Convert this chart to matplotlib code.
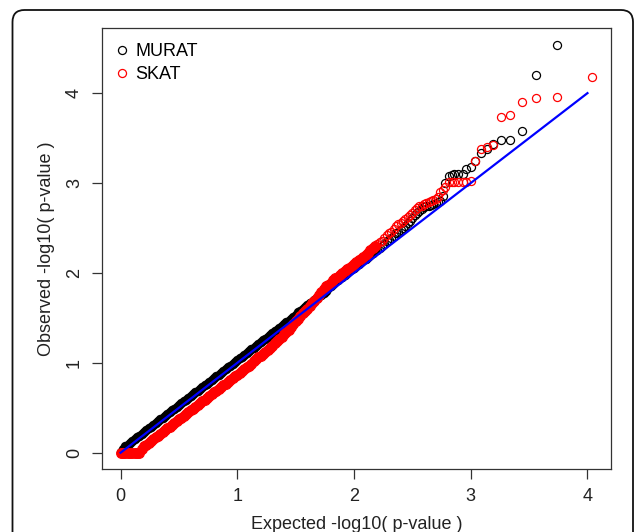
import matplotlib
matplotlib.use("Agg")
import matplotlib.pyplot as plt
from matplotlib.patches import FancyBboxPatch

plt.rcParams['font.family'] = ['Liberation Sans', 'DejaVu Sans']

# expected -log10(p): dense part read on a 0.02 grid, then the sparse top ranks
bulk_expected = [
    0.00, 0.02, 0.04, 0.06, 0.08, 0.10, 0.12, 0.14, 0.16, 0.18,
    0.20, 0.22, 0.24, 0.26, 0.28, 0.30, 0.32, 0.34, 0.36, 0.38,
    0.40, 0.42, 0.44, 0.46, 0.48, 0.50, 0.52, 0.54, 0.56, 0.58,
    0.60, 0.62, 0.64, 0.66, 0.68, 0.70, 0.72, 0.74, 0.76, 0.78,
    0.80, 0.82, 0.84, 0.86, 0.88, 0.90, 0.92, 0.94, 0.96, 0.98,
    1.00, 1.02, 1.04, 1.06, 1.08, 1.10, 1.12, 1.14, 1.16, 1.18,
    1.20, 1.22, 1.24, 1.26, 1.28, 1.30, 1.32, 1.34, 1.36, 1.38,
    1.40, 1.42, 1.44, 1.46, 1.48, 1.50, 1.52, 1.54, 1.56, 1.58,
    1.60, 1.62, 1.64, 1.66, 1.68, 1.70, 1.72, 1.74, 1.76, 1.78,
    1.80, 1.82, 1.84, 1.86, 1.88, 1.90, 1.92, 1.94, 1.96, 1.98,
    2.00, 2.02, 2.04, 2.06, 2.08, 2.10, 2.12, 2.14, 2.16, 2.18,
    2.20, 2.22, 2.24, 2.26, 2.28, 2.30, 2.32, 2.34, 2.36, 2.38,
    2.40, 2.42, 2.44, 2.46, 2.48, 2.50, 2.52, 2.54, 2.56, 2.58,
    2.60, 2.62, 2.64, 2.66, 2.68, 2.70, 2.72,
]
tail_expected = [2.74, 2.76, 2.78, 2.81, 2.84, 2.86, 2.89, 2.93, 2.96, 3.00,
                 3.04, 3.09, 3.14, 3.19, 3.26, 3.34, 3.44, 3.56, 3.74, 4.04]

murat_bulk = [
    0.01, 0.04, 0.07, 0.09, 0.11, 0.13, 0.15, 0.17, 0.19, 0.21,
    0.23, 0.25, 0.27, 0.29, 0.31, 0.33, 0.35, 0.37, 0.39, 0.41,
    0.43, 0.45, 0.47, 0.49, 0.51, 0.53, 0.55, 0.57, 0.59, 0.61,
    0.63, 0.65, 0.67, 0.69, 0.71, 0.73, 0.75, 0.77, 0.79, 0.81,
    0.83, 0.85, 0.87, 0.89, 0.91, 0.93, 0.95, 0.97, 0.99, 1.01,
    1.03, 1.05, 1.07, 1.09, 1.11, 1.13, 1.15, 1.17, 1.19, 1.21,
    1.23, 1.25, 1.27, 1.29, 1.31, 1.33, 1.35, 1.37, 1.39, 1.41,
    1.43, 1.45, 1.47, 1.49, 1.51, 1.53, 1.56, 1.58, 1.60, 1.62,
    1.64, 1.66, 1.68, 1.70, 1.72, 1.74, 1.76, 1.78, 1.80, 1.83,
    1.86, 1.88, 1.90, 1.92, 1.94, 1.96, 1.98, 2.00, 2.02, 2.04,
    2.06, 2.08, 2.10, 2.12, 2.14, 2.16, 2.18, 2.20, 2.22, 2.24,
    2.26, 2.28, 2.30, 2.32, 2.35, 2.37, 2.39, 2.41, 2.44, 2.46,
    2.48, 2.50, 2.52, 2.55, 2.58, 2.61, 2.64, 2.67, 2.69, 2.71,
    2.73, 2.74, 2.75, 2.76, 2.77, 2.78, 2.79,
]
# MURAT has no point at the top rank
murat_tail = [2.80, 2.86, 3.00, 3.08, 3.09, 3.10, 3.10, 3.10, 3.16, 3.18,
              3.24, 3.33, 3.38, 3.43, 3.48, 3.48, 3.58, 4.20, 4.54]

skat_bulk = [
    0.00, 0.00, 0.00, 0.00, 0.00, 0.00, 0.00, 0.00, 0.00, 0.04,
    0.07, 0.09, 0.11, 0.13, 0.15, 0.17, 0.19, 0.21, 0.23, 0.25,
    0.27, 0.29, 0.31, 0.33, 0.35, 0.37, 0.39, 0.41, 0.43, 0.45,
    0.47, 0.49, 0.51, 0.53, 0.55, 0.57, 0.59, 0.61, 0.63, 0.65,
    0.67, 0.69, 0.71, 0.73, 0.75, 0.77, 0.79, 0.81, 0.83, 0.85,
    0.87, 0.89, 0.91, 0.93, 0.95, 0.97, 0.99, 1.02, 1.04, 1.06,
    1.08, 1.10, 1.12, 1.14, 1.17, 1.19, 1.22, 1.24, 1.27, 1.29,
    1.32, 1.34, 1.37, 1.40, 1.43, 1.46, 1.49, 1.52, 1.55, 1.58,
    1.60, 1.63, 1.66, 1.69, 1.72, 1.76, 1.79, 1.82, 1.85, 1.87,
    1.89, 1.92, 1.94, 1.96, 1.98, 2.00, 2.02, 2.04, 2.06, 2.08,
    2.10, 2.12, 2.14, 2.16, 2.18, 2.20, 2.22, 2.25, 2.28, 2.30,
    2.32, 2.34, 2.36, 2.39, 2.42, 2.44, 2.46, 2.49, 2.52, 2.54,
    2.56, 2.58, 2.60, 2.62, 2.64, 2.67, 2.70, 2.72, 2.74, 2.75,
    2.77, 2.78, 2.79, 2.80, 2.81, 2.82, 2.84,
]
skat_tail = [2.90, 2.92, 2.96, 3.01, 3.01, 3.01, 3.01, 3.01, 3.01, 3.02,
             3.24, 3.38, 3.40, 3.42, 3.74, 3.76, 3.90, 3.95, 3.96, 4.18]

ref_line = [0, 4]

# below expected = 2.2 the overplotted circles merge into a solid band
n_dense = 110

murat_x = bulk_expected + tail_expected[:len(murat_tail)]
murat_y = murat_bulk + murat_tail
skat_x = bulk_expected + tail_expected
skat_y = skat_bulk + skat_tail

fig = plt.figure(figsize=(6.35, 5.32), dpi=100)
ax = fig.add_axes([0.1602, 0.1186, 0.802, 0.828])

# rounded frame around the figure, running off the bottom
frame = FancyBboxPatch((0.125, -0.6), 6.205, 5.82,
                       boxstyle="round,pad=0,rounding_size=0.12",
                       transform=fig.dpi_scale_trans, fill=False,
                       ec="#111111", lw=1.3)
fig.patches.append(frame)

ax.plot(murat_x[:n_dense], murat_y[:n_dense], 'o', mfc='black', mec='black', ms=6.0, mew=0.8)
ax.plot(murat_x[n_dense:], murat_y[n_dense:], 'o', mfc='none', mec='black', ms=5.8, mew=0.9,
        label='MURAT')
ax.plot(skat_x[:n_dense], skat_y[:n_dense], 'o', mfc='red', mec='red', ms=7.0, mew=0.8)
ax.plot(skat_x[n_dense:], skat_y[n_dense:], 'o', mfc='none', mec='red', ms=5.8, mew=0.9,
        label='SKAT')
ax.plot(ref_line, ref_line, color='blue', lw=1.6)

ax.set_xlim(-0.1616, 4.2016)
ax.set_ylim(-0.18, 4.72)
ax.set_xticks([0, 1, 2, 3, 4])
ax.set_yticks([0, 1, 2, 3, 4])
ax.tick_params(direction='out', length=7.5, width=0.9, pad=6, labelsize=13,
               color='#333333', labelcolor='#222222')
ax.tick_params(axis='y', labelrotation=90)
for lab in ax.get_yticklabels():
    lab.set_va('center')
for s in ax.spines.values():
    s.set_linewidth(0.9)
    s.set_color('#333333')

ax.set_xlabel('Expected -log10( p-value )', fontsize=13, labelpad=8, color='#222222')
ax.set_ylabel('Observed -log10( p-value )', fontsize=13, labelpad=8, color='#222222')

ax.legend(loc='upper left', frameon=False, fontsize=13, borderaxespad=0.3,
          borderpad=0.5, handlelength=0.6, handletextpad=0.48, labelspacing=0.35)

fig.savefig('out.png', dpi=100)
